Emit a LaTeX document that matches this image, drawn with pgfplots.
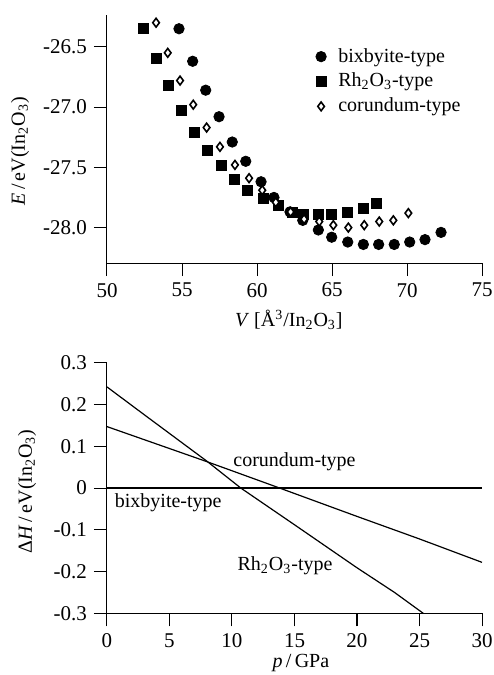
\documentclass[border=0pt]{standalone}
\usepackage{fontspec}
\setmainfont{Liberation Serif}
\usepackage{pgfplots}
\pgfplotsset{compat=1.18}
\begin{document}
\begin{tikzpicture}
\pgfplotsset{
  every axis/.append style={
    scale only axis, width=187.5pt,
    axis lines*=left, xtick pos=bottom, ytick pos=left,
    tick align=outside, major tick length=6.5pt,
    axis line style={line width=0.5pt},
    every tick/.style={black, line width=0.5pt},
    /pgf/number format/assume math mode=true,
    tick label style={font=\fontsize{10.5}{12}\selectfont},
    label style={font=\fontsize{10}{12}\selectfont},
  },
}
\path[use as bounding box] (-53.5pt,-206pt) rectangle (193pt,131.5pt);
% upper panel: energy vs volume
\begin{axis}[
    at={(0pt,0pt)}, anchor=south west, height=124pt,
    xmin=50, xmax=75, ymin=-28.294, ymax=-26.236,
    xtick={50,55,...,75}, ytick={-28,-27.5,-27,-26.5},
    yticklabel style={/pgf/number format/.cd, fixed, fixed zerofill, precision=1},
    xlabel={\textit{V} [Å\textsuperscript{3}/In\textsubscript{2}O\textsubscript{3}]},
    ylabel={\textit{E}\,/\,eV(In\textsubscript{2}O\textsubscript{3})},
    xlabel style={at={(axis description cs:0.485,-0.23)}, anchor=center},
    ylabel style={at={(axis description cs:-0.232,0.45)}, anchor=center},
    legend style={draw=none, fill=none, at={(0.54,0.9)}, anchor=north west,
      font=\fontsize{10}{12}\selectfont, legend cell align=left, column sep=4pt},
  ]
  \addplot[only marks, mark=*, mark size=2.6pt, black] coordinates {
    (54.80,-26.35) (55.71,-26.62) (56.58,-26.86) (57.47,-27.08) (58.35,-27.29)
    (59.25,-27.45) (60.27,-27.62) (61.13,-27.75) (62.20,-27.87) (63.05,-27.94)
    (64.09,-28.02) (64.98,-28.08) (66.05,-28.12) (67.09,-28.14) (68.11,-28.14)
    (69.15,-28.14) (70.18,-28.12) (71.20,-28.10) (72.27,-28.04)
  };
  \addplot[only marks, mark=square*, mark size=2.5pt, black] coordinates {
    (52.42,-26.35) (53.31,-26.60) (54.09,-26.82) (54.93,-27.03) (55.82,-27.21)
    (56.71,-27.36) (57.60,-27.48) (58.49,-27.60) (59.38,-27.69) (60.40,-27.76)
    (61.40,-27.82) (62.33,-27.87) (63.09,-27.89) (64.12,-27.89) (64.98,-27.89)
    (66.05,-27.87) (67.09,-27.84) (67.98,-27.80)
  };
  \addplot[only marks, mark=diamond*, mark size=2.2pt, black, line width=0.8pt,
    mark options={fill=white}] coordinates {
    (53.27,-26.30) (54.05,-26.55) (54.87,-26.78) (55.75,-26.98) (56.64,-27.17)
    (57.53,-27.33) (58.53,-27.48) (59.47,-27.59) (60.35,-27.69) (61.25,-27.79)
    (62.24,-27.87) (63.14,-27.93) (64.15,-27.95) (65.09,-27.98) (66.09,-28.00)
    (67.15,-27.98) (68.15,-27.95) (69.09,-27.94) (70.09,-27.88)
  };
  \legend{bixbyite-type, Rh\textsubscript{2}O\textsubscript{3}-type, corundum-type}
\end{axis}
% lower panel: enthalpy difference vs pressure
\begin{axis}[
    at={(0pt,-175.15pt)}, anchor=south west, height=125.3pt,
    xmin=0, xmax=30, ymin=-0.3, ymax=0.3,
    xtick={0,5,...,30}, ytick={-0.3,-0.2,-0.1,0,0.1,0.2,0.3},
    xlabel={\textit{p}\,/\,GPa},
    ylabel={Δ\textit{H}\,/\,eV(In\textsubscript{2}O\textsubscript{3})},
    xlabel style={at={(axis description cs:0.517,-0.198)}, anchor=center},
    ylabel style={at={(axis description cs:-0.213,0.486)}, anchor=center},
  ]
  \addplot[black, line width=0.6pt] coordinates {(0,0) (30,0)};
  \addplot[black, line width=0.6pt] coordinates {
    (0,0.147) (8,0.063) (13.8,0) (20,-0.068) (25,-0.122) (30,-0.178)
  };
  \addplot[black, line width=0.6pt] coordinates {
    (0,0.242) (3,0.175) (8,0.064) (10.7,0) (15,-0.088) (20,-0.191) (23,-0.250) (25.3,-0.300)
  };
  \node[font=\fontsize{10}{12}\selectfont] at (axis cs:15.0,0.064) {corundum-type};
  \node[font=\fontsize{10}{12}\selectfont] at (axis cs:4.9,-0.035) {bixbyite-type};
  \node[font=\fontsize{10}{12}\selectfont] at (axis cs:14.24,-0.185) {Rh\textsubscript{2}O\textsubscript{3}-type};
\end{axis}
\end{tikzpicture}
\end{document}
